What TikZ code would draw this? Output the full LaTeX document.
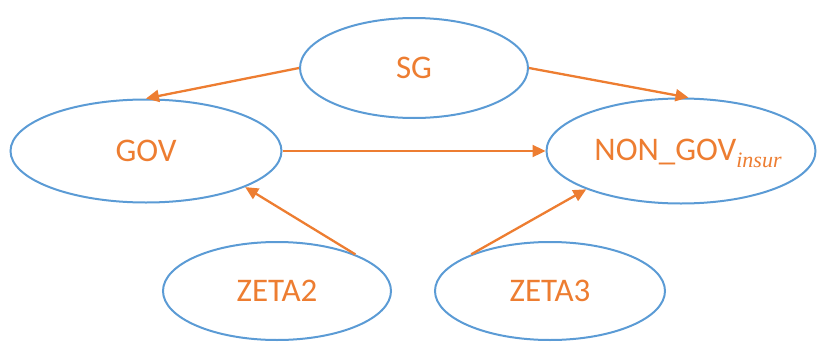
\documentclass[tikz,border=0pt]{standalone}
\usepackage{fontspec}
\setmainfont{Carlito}
\newfontfamily\subfont{Liberation Serif}
\usetikzlibrary{shapes.geometric,arrows.meta}
\definecolor{eblue}{HTML}{5B9BD5}
\definecolor{eorange}{HTML}{ED7D31}
\begin{document}
\begin{tikzpicture}[x=1pt,y=-1pt,
  oval/.style={ellipse,draw=eblue,line width=2pt,inner sep=0pt},
  lbl/.style={text=eorange,font=\fontsize{33}{38}\selectfont,inner sep=0pt},
  conn/.style={draw=eorange,line width=2.3pt,-{Triangle[length=13pt,width=12pt]}}]
\useasboundingbox (0,0) rectangle (822,343);
\node[oval,minimum width=228pt,minimum height=100pt] (sg) at (414,68) {};
\node[oval,minimum width=271pt,minimum height=103pt] (gov) at (146,151) {};
\node[oval,minimum width=269pt,minimum height=105pt] (non) at (681,151) {};
\node[oval,minimum width=228pt,minimum height=98pt] (z2) at (277,291) {};
\node[oval,minimum width=230pt,minimum height=98pt] (z3) at (550,291) {};
\node[lbl] (sgt) at (sg) {SG};
\node[lbl] (govt) at (gov) {GOV};
\node[lbl] (nont) at (688,153) {NON\_GOV\raisebox{-7pt}{\subfont\itshape\fontsize{22}{24}\selectfont insur}};
\node[lbl] (z2t) at (z2) {ZETA2};
\node[lbl] (z3t) at (z3) {ZETA3};
\draw[conn] (sg.180) -- (gov.90);
\draw[conn] (sg.0) -- (non.82);
\draw[conn] (gov.0) -- (non.180);
\draw[conn] (z2.25) -- (gov.-20);
\draw[conn] (z3.155) -- (non.-158);
\end{tikzpicture}
\end{document}
